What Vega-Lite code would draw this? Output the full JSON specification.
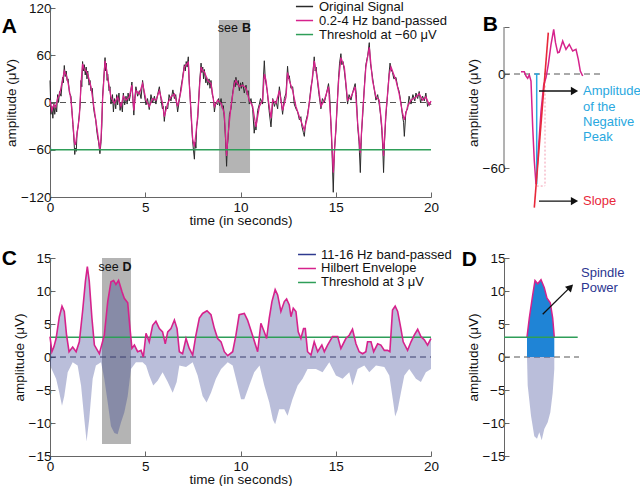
{
"$schema": "https://vega.github.io/schema/vega-lite/v6.json",
"padding": {"left": 1, "top": 0, "right": 0, "bottom": 0},
"background": "white",
"data": {"values": [{}]},
"config": {
  "view": {"stroke": null},
  "font": "Liberation Sans",
  "axis": {"grid": false, "domainColor": "#666", "tickColor": "#666", "labelColor": "#111", "titleColor": "#111", "labelFontSize": 13.5, "titleFontSize": 13.5, "titleFontWeight": "normal", "tickSize": -5, "labelPadding": 4, "titlePadding": 2, "labelFlush": false, "labelOverlap": false, "domainWidth": 1, "tickWidth": 1},
  "axisX": {"labelPadding": 8, "titlePadding": 0}
},
"datasets": {
  "bpA": [{"t":0,"v":3},{"t":0.1,"v":-10},{"t":0.2,"v":-3},{"t":0.3,"v":-6},{"t":0.4,"v":5},{"t":0.5,"v":10},{"t":0.66,"v":28},{"t":0.75,"v":40},{"t":0.85,"v":35},{"t":0.95,"v":25},{"t":1.1,"v":3},{"t":1.2,"v":-25},{"t":1.28,"v":-50},{"t":1.33,"v":-54},{"t":1.42,"v":-40},{"t":1.54,"v":-18},{"t":1.63,"v":24},{"t":1.71,"v":49},{"t":1.8,"v":42},{"t":1.9,"v":40},{"t":1.98,"v":36},{"t":2.15,"v":20},{"t":2.33,"v":-10},{"t":2.5,"v":-39},{"t":2.62,"v":-60},{"t":2.68,"v":-45},{"t":2.76,"v":3},{"t":2.89,"v":53},{"t":2.95,"v":45},{"t":3.03,"v":32},{"t":3.2,"v":7},{"t":3.38,"v":-1},{"t":3.55,"v":7},{"t":3.73,"v":-5},{"t":3.85,"v":8},{"t":3.99,"v":3},{"t":4.16,"v":7},{"t":4.3,"v":22},{"t":4.4,"v":-10},{"t":4.51,"v":15},{"t":4.69,"v":11},{"t":4.86,"v":24},{"t":5.04,"v":3},{"t":5.21,"v":-5},{"t":5.39,"v":5},{"t":5.56,"v":3},{"t":5.74,"v":15},{"t":5.9,"v":0},{"t":6.0,"v":-18},{"t":6.18,"v":-1},{"t":6.35,"v":7},{"t":6.53,"v":11},{"t":6.7,"v":-5},{"t":6.88,"v":15},{"t":7.05,"v":45},{"t":7.15,"v":48},{"t":7.26,"v":51},{"t":7.31,"v":24},{"t":7.4,"v":-10},{"t":7.49,"v":-47},{"t":7.58,"v":-56},{"t":7.66,"v":-40},{"t":7.75,"v":-18},{"t":7.85,"v":20},{"t":7.93,"v":45},{"t":8.02,"v":40},{"t":8.1,"v":39},{"t":8.28,"v":28},{"t":8.45,"v":24},{"t":8.63,"v":-5},{"t":8.8,"v":3},{"t":8.98,"v":-1},{"t":9.15,"v":-14},{"t":9.22,"v":-45},{"t":9.27,"v":-68},{"t":9.35,"v":-40},{"t":9.5,"v":-5},{"t":9.68,"v":24},{"t":9.76,"v":28},{"t":9.94,"v":20},{"t":10.11,"v":22},{"t":10.29,"v":18},{"t":10.46,"v":3},{"t":10.64,"v":-5},{"t":10.81,"v":-31},{"t":10.99,"v":-5},{"t":11.16,"v":3},{"t":11.25,"v":36},{"t":11.34,"v":28},{"t":11.45,"v":5},{"t":11.6,"v":-20},{"t":11.69,"v":3},{"t":11.86,"v":-1},{"t":12.04,"v":15},{"t":12.21,"v":-10},{"t":12.39,"v":7},{"t":12.47,"v":38},{"t":12.56,"v":28},{"t":12.74,"v":15},{"t":12.91,"v":-5},{"t":13.09,"v":-18},{"t":13.35,"v":-35},{"t":13.52,"v":-18},{"t":13.7,"v":16},{"t":13.87,"v":53},{"t":14.05,"v":28},{"t":14.22,"v":-5},{"t":14.4,"v":3},{"t":14.62,"v":20},{"t":14.75,"v":-26},{"t":14.87,"v":-89},{"t":15.01,"v":-31},{"t":15.15,"v":28},{"t":15.27,"v":57},{"t":15.45,"v":45},{"t":15.62,"v":3},{"t":15.8,"v":7},{"t":16.02,"v":20},{"t":16.15,"v":-26},{"t":16.29,"v":-64},{"t":16.41,"v":-14},{"t":16.58,"v":45},{"t":16.76,"v":70},{"t":16.93,"v":28},{"t":17.11,"v":7},{"t":17.28,"v":3},{"t":17.42,"v":-31},{"t":17.51,"v":-68},{"t":17.63,"v":-14},{"t":17.81,"v":36},{"t":17.9,"v":45},{"t":18.16,"v":28},{"t":18.33,"v":11},{"t":18.51,"v":-14},{"t":18.6,"v":-22},{"t":18.77,"v":-5},{"t":18.95,"v":3},{"t":19.21,"v":7},{"t":19.38,"v":11},{"t":19.56,"v":3},{"t":19.73,"v":7},{"t":19.91,"v":-3},{"t":20,"v":2}],
  "origA": [{"t":0,"v":28},{"t":0.05,"v":-15},{"t":0.1,"v":-5},{"t":0.15,"v":-20},{"t":0.2,"v":-2},{"t":0.25,"v":-15},{"t":0.3,"v":-3},{"t":0.35,"v":-12},{"t":0.4,"v":10},{"t":0.45,"v":0},{"t":0.5,"v":14},{"t":0.58,"v":8},{"t":0.66,"v":32},{"t":0.7,"v":25},{"t":0.75,"v":47},{"t":0.8,"v":33},{"t":0.85,"v":40},{"t":0.9,"v":28},{"t":0.95,"v":30},{"t":1.02,"v":12},{"t":1.1,"v":8},{"t":1.15,"v":-10},{"t":1.2,"v":-28},{"t":1.25,"v":-45},{"t":1.3,"v":-66},{"t":1.33,"v":-58},{"t":1.38,"v":-62},{"t":1.42,"v":-38},{"t":1.48,"v":-30},{"t":1.54,"v":-14},{"t":1.58,"v":-5},{"t":1.63,"v":28},{"t":1.67,"v":20},{"t":1.71,"v":52},{"t":1.75,"v":40},{"t":1.8,"v":48},{"t":1.85,"v":35},{"t":1.9,"v":45},{"t":1.94,"v":30},{"t":1.98,"v":40},{"t":2.05,"v":22},{"t":2.1,"v":28},{"t":2.15,"v":15},{"t":2.22,"v":18},{"t":2.28,"v":-5},{"t":2.33,"v":-14},{"t":2.4,"v":-22},{"t":2.45,"v":-35},{"t":2.5,"v":-44},{"t":2.55,"v":-50},{"t":2.62,"v":-65},{"t":2.65,"v":-58},{"t":2.68,"v":-50},{"t":2.72,"v":-30},{"t":2.76,"v":8},{"t":2.82,"v":30},{"t":2.89,"v":57},{"t":2.92,"v":40},{"t":2.95,"v":50},{"t":3.0,"v":28},{"t":3.03,"v":36},{"t":3.1,"v":15},{"t":3.15,"v":20},{"t":3.2,"v":-2},{"t":3.28,"v":10},{"t":3.33,"v":-12},{"t":3.38,"v":5},{"t":3.45,"v":-8},{"t":3.5,"v":10},{"t":3.55,"v":-3},{"t":3.62,"v":12},{"t":3.68,"v":-10},{"t":3.73,"v":0},{"t":3.8,"v":-12},{"t":3.85,"v":12},{"t":3.92,"v":-3},{"t":3.99,"v":8},{"t":4.05,"v":-2},{"t":4.1,"v":12},{"t":4.16,"v":2},{"t":4.22,"v":10},{"t":4.3,"v":26},{"t":4.35,"v":5},{"t":4.4,"v":-16},{"t":4.45,"v":5},{"t":4.51,"v":20},{"t":4.6,"v":8},{"t":4.69,"v":15},{"t":4.78,"v":5},{"t":4.86,"v":28},{"t":4.95,"v":10},{"t":5.04,"v":-3},{"t":5.12,"v":5},{"t":5.21,"v":-9},{"t":5.3,"v":10},{"t":5.39,"v":0},{"t":5.48,"v":8},{"t":5.56,"v":-2},{"t":5.65,"v":10},{"t":5.74,"v":20},{"t":5.82,"v":5},{"t":5.9,"v":-8},{"t":5.95,"v":-5},{"t":6.0,"v":-24},{"t":6.08,"v":-5},{"t":6.18,"v":-8},{"t":6.25,"v":10},{"t":6.35,"v":2},{"t":6.45,"v":16},{"t":6.53,"v":5},{"t":6.6,"v":10},{"t":6.7,"v":-12},{"t":6.8,"v":5},{"t":6.88,"v":20},{"t":6.95,"v":30},{"t":7.05,"v":48},{"t":7.1,"v":40},{"t":7.15,"v":52},{"t":7.2,"v":45},{"t":7.26,"v":58},{"t":7.3,"v":30},{"t":7.35,"v":10},{"t":7.4,"v":-15},{"t":7.45,"v":-35},{"t":7.49,"v":-50},{"t":7.53,"v":-60},{"t":7.58,"v":-72},{"t":7.62,"v":-50},{"t":7.66,"v":-58},{"t":7.7,"v":-30},{"t":7.75,"v":-22},{"t":7.8,"v":0},{"t":7.85,"v":25},{"t":7.9,"v":40},{"t":7.93,"v":50},{"t":7.97,"v":38},{"t":8.02,"v":45},{"t":8.06,"v":30},{"t":8.1,"v":42},{"t":8.18,"v":25},{"t":8.22,"v":32},{"t":8.28,"v":22},{"t":8.35,"v":30},{"t":8.4,"v":18},{"t":8.45,"v":28},{"t":8.52,"v":10},{"t":8.58,"v":5},{"t":8.63,"v":-12},{"t":8.7,"v":0},{"t":8.8,"v":-3},{"t":8.85,"v":5},{"t":8.9,"v":-4},{"t":8.98,"v":5},{"t":9.05,"v":-8},{"t":9.1,"v":-4},{"t":9.15,"v":-20},{"t":9.2,"v":-40},{"t":9.22,"v":-50},{"t":9.27,"v":-81},{"t":9.31,"v":-55},{"t":9.35,"v":-45},{"t":9.42,"v":-15},{"t":9.5,"v":-8},{"t":9.58,"v":10},{"t":9.68,"v":28},{"t":9.72,"v":20},{"t":9.76,"v":32},{"t":9.82,"v":22},{"t":9.88,"v":28},{"t":9.94,"v":15},{"t":10.0,"v":25},{"t":10.05,"v":18},{"t":10.11,"v":26},{"t":10.2,"v":12},{"t":10.29,"v":22},{"t":10.35,"v":10},{"t":10.4,"v":15},{"t":10.46,"v":-2},{"t":10.55,"v":5},{"t":10.64,"v":-9},{"t":10.72,"v":-39},{"t":10.78,"v":-25},{"t":10.81,"v":-35},{"t":10.9,"v":-10},{"t":10.99,"v":-2},{"t":11.05,"v":5},{"t":11.16,"v":-2},{"t":11.2,"v":30},{"t":11.25,"v":53},{"t":11.3,"v":30},{"t":11.4,"v":15},{"t":11.5,"v":-10},{"t":11.6,"v":-31},{"t":11.65,"v":-15},{"t":11.69,"v":5},{"t":11.78,"v":-5},{"t":11.86,"v":2},{"t":11.95,"v":-8},{"t":12.04,"v":20},{"t":12.12,"v":5},{"t":12.21,"v":-15},{"t":12.3,"v":5},{"t":12.39,"v":12},{"t":12.47,"v":46},{"t":12.52,"v":30},{"t":12.56,"v":34},{"t":12.65,"v":18},{"t":12.74,"v":20},{"t":12.82,"v":-2},{"t":12.91,"v":-8},{"t":13.0,"v":-12},{"t":13.09,"v":-22},{"t":13.17,"v":-18},{"t":13.22,"v":-30},{"t":13.3,"v":-38},{"t":13.35,"v":-43},{"t":13.42,"v":-25},{"t":13.52,"v":-15},{"t":13.6,"v":-2},{"t":13.7,"v":20},{"t":13.78,"v":30},{"t":13.87,"v":58},{"t":13.92,"v":40},{"t":13.97,"v":45},{"t":14.05,"v":25},{"t":14.12,"v":10},{"t":14.22,"v":-8},{"t":14.3,"v":5},{"t":14.4,"v":0},{"t":14.5,"v":10},{"t":14.62,"v":24},{"t":14.68,"v":10},{"t":14.75,"v":-30},{"t":14.8,"v":-60},{"t":14.87,"v":-114},{"t":14.93,"v":-60},{"t":15.01,"v":-35},{"t":15.08,"v":0},{"t":15.15,"v":32},{"t":15.2,"v":50},{"t":15.27,"v":62},{"t":15.32,"v":48},{"t":15.38,"v":52},{"t":15.45,"v":40},{"t":15.52,"v":25},{"t":15.62,"v":-2},{"t":15.7,"v":10},{"t":15.8,"v":3},{"t":15.9,"v":14},{"t":16.02,"v":24},{"t":16.08,"v":10},{"t":16.15,"v":-30},{"t":16.22,"v":-50},{"t":16.29,"v":-89},{"t":16.35,"v":-40},{"t":16.41,"v":-18},{"t":16.5,"v":20},{"t":16.58,"v":48},{"t":16.68,"v":60},{"t":16.76,"v":76},{"t":16.82,"v":50},{"t":16.93,"v":32},{"t":17.0,"v":20},{"t":17.11,"v":3},{"t":17.2,"v":10},{"t":17.28,"v":-2},{"t":17.35,"v":-15},{"t":17.42,"v":-36},{"t":17.47,"v":-60},{"t":17.51,"v":-89},{"t":17.56,"v":-50},{"t":17.63,"v":-18},{"t":17.72,"v":10},{"t":17.81,"v":40},{"t":17.85,"v":50},{"t":17.9,"v":42},{"t":17.98,"v":38},{"t":18.05,"v":30},{"t":18.16,"v":32},{"t":18.25,"v":20},{"t":18.33,"v":14},{"t":18.42,"v":0},{"t":18.51,"v":-18},{"t":18.56,"v":-25},{"t":18.6,"v":-43},{"t":18.68,"v":-12},{"t":18.77,"v":-8},{"t":18.85,"v":8},{"t":18.95,"v":-2},{"t":19.05,"v":10},{"t":19.15,"v":2},{"t":19.21,"v":12},{"t":19.3,"v":5},{"t":19.38,"v":14},{"t":19.45,"v":0},{"t":19.56,"v":8},{"t":19.65,"v":2},{"t":19.73,"v":12},{"t":19.82,"v":-5},{"t":19.91,"v":0},{"t":20,"v":-3}],
  "bsig": [{"u":17,"v":1.5},{"u":20.3,"v":1.5},{"u":22,"v":-1.3},{"u":23.7,"v":-2.8},{"u":25.3,"v":-0.6},{"u":27,"v":-4.5},{"u":28.7,"v":-34},{"u":30.3,"v":-55.5},{"u":32,"v":-70.4},{"u":34.3,"v":-49},{"u":37,"v":-24},{"u":39.7,"v":-7},{"u":42,"v":-2.3},{"u":44.3,"v":6},{"u":47,"v":18.7},{"u":49.7,"v":28.5},{"u":51.5,"v":20},{"u":53.7,"v":13.6},{"u":55.3,"v":14},{"u":58.7,"v":21},{"u":62,"v":15.7},{"u":65.3,"v":18.9},{"u":68.7,"v":14.7},{"u":72,"v":15.7},{"u":74.3,"v":9.4},{"u":76.3,"v":1.9},{"u":78.7,"v":-1.3}],
  "cup": [{"t":0,"v":3.1},{"t":0.1,"v":0.8},{"t":0.2,"v":1.5},{"t":0.32,"v":2.8},{"t":0.49,"v":6.1},{"t":0.63,"v":7.7},{"t":0.75,"v":6.9},{"t":0.87,"v":3.3},{"t":1.0,"v":0.8},{"t":1.19,"v":1.5},{"t":1.37,"v":0.8},{"t":1.54,"v":2.3},{"t":1.71,"v":6.9},{"t":1.86,"v":11.5},{"t":1.96,"v":13.7},{"t":2.06,"v":11.5},{"t":2.2,"v":5.9},{"t":2.33,"v":1.8},{"t":2.59,"v":0.5},{"t":2.85,"v":3.3},{"t":3.03,"v":8.4},{"t":3.2,"v":11.4},{"t":3.34,"v":11.6},{"t":3.46,"v":11.0},{"t":3.6,"v":11.6},{"t":3.78,"v":9.9},{"t":3.9,"v":8.9},{"t":4.08,"v":8.2},{"t":4.2,"v":4.3},{"t":4.3,"v":1.3},{"t":4.43,"v":1.8},{"t":4.6,"v":0.8},{"t":4.78,"v":1.0},{"t":4.9,"v":0},{"t":5.04,"v":3.6},{"t":5.21,"v":2.3},{"t":5.39,"v":4.8},{"t":5.56,"v":5.4},{"t":5.74,"v":4.3},{"t":5.91,"v":3.8},{"t":6.05,"v":2.0},{"t":6.18,"v":3.8},{"t":6.35,"v":4.3},{"t":6.53,"v":5.6},{"t":6.67,"v":4.3},{"t":6.79,"v":0.8},{"t":6.96,"v":0.5},{"t":7.14,"v":2.8},{"t":7.31,"v":1.3},{"t":7.49,"v":0.3},{"t":7.66,"v":3.3},{"t":7.84,"v":5.9},{"t":8.01,"v":6.6},{"t":8.24,"v":7.0},{"t":8.45,"v":6.4},{"t":8.63,"v":4.3},{"t":8.8,"v":2.8},{"t":8.98,"v":2.3},{"t":9.15,"v":0.8},{"t":9.33,"v":0.2},{"t":9.59,"v":0.8},{"t":9.76,"v":3.3},{"t":9.93,"v":6.4},{"t":10.2,"v":6.6},{"t":10.37,"v":5.6},{"t":10.63,"v":3.3},{"t":10.9,"v":0.8},{"t":11.07,"v":5.1},{"t":11.25,"v":3.8},{"t":11.37,"v":2.8},{"t":11.51,"v":5.9},{"t":11.65,"v":8.4},{"t":11.82,"v":10.2},{"t":11.95,"v":9.4},{"t":12.12,"v":6.9},{"t":12.3,"v":8.4},{"t":12.42,"v":8.8},{"t":12.56,"v":7.9},{"t":12.65,"v":6.1},{"t":12.77,"v":7.4},{"t":12.91,"v":6.9},{"t":13.03,"v":3.8},{"t":13.17,"v":2.8},{"t":13.31,"v":4.3},{"t":13.4,"v":4.3},{"t":13.52,"v":0.8},{"t":13.7,"v":0.3},{"t":13.87,"v":2.3},{"t":14.05,"v":0.8},{"t":14.27,"v":1.8},{"t":14.4,"v":0.8},{"t":14.57,"v":1.8},{"t":14.83,"v":3.1},{"t":15.1,"v":3.1},{"t":15.27,"v":1.3},{"t":15.53,"v":2.8},{"t":15.71,"v":3.3},{"t":15.88,"v":4.2},{"t":16.06,"v":2.0},{"t":16.23,"v":0.8},{"t":16.41,"v":0.5},{"t":16.58,"v":0.8},{"t":16.67,"v":2.3},{"t":16.85,"v":2.3},{"t":16.99,"v":0.8},{"t":17.2,"v":2.0},{"t":17.37,"v":1.8},{"t":17.55,"v":1.0},{"t":17.72,"v":1.0},{"t":17.84,"v":0.8},{"t":17.98,"v":7.1},{"t":18.12,"v":7.7},{"t":18.25,"v":6.9},{"t":18.42,"v":4.3},{"t":18.54,"v":2.3},{"t":18.77,"v":1.0},{"t":18.95,"v":2.3},{"t":19.12,"v":3.3},{"t":19.3,"v":4.2},{"t":19.47,"v":3.1},{"t":19.65,"v":2.6},{"t":19.82,"v":1.8},{"t":19.96,"v":2.6},{"t":20,"v":2.8}],
  "clow": [{"t":0,"v":-1.3},{"t":0.32,"v":-3.3},{"t":0.49,"v":-5.4},{"t":0.63,"v":-7.4},{"t":0.75,"v":-5.9},{"t":0.93,"v":-2.3},{"t":1.19,"v":-0.8},{"t":1.45,"v":-1.3},{"t":1.63,"v":-4.3},{"t":1.8,"v":-9.4},{"t":1.92,"v":-12.8},{"t":2.06,"v":-9.4},{"t":2.24,"v":-3.3},{"t":2.41,"v":-1.3},{"t":2.68,"v":-0.8},{"t":2.85,"v":-3.3},{"t":3.03,"v":-6.9},{"t":3.2,"v":-10.5},{"t":3.38,"v":-11.5},{"t":3.55,"v":-11.7},{"t":3.73,"v":-9.9},{"t":3.9,"v":-8.4},{"t":4.08,"v":-5.9},{"t":4.25,"v":-1.8},{"t":4.51,"v":-0.8},{"t":4.86,"v":-0.8},{"t":5.04,"v":-1.3},{"t":5.21,"v":-2.8},{"t":5.42,"v":-4.3},{"t":5.65,"v":-3.6},{"t":5.91,"v":-2.3},{"t":6.18,"v":-3.8},{"t":6.44,"v":-5.4},{"t":6.65,"v":-3.8},{"t":6.79,"v":-1.3},{"t":7.14,"v":-1.5},{"t":7.49,"v":-0.8},{"t":7.75,"v":-2.8},{"t":8.01,"v":-5.9},{"t":8.22,"v":-6.9},{"t":8.45,"v":-5.4},{"t":8.71,"v":-3.3},{"t":8.98,"v":-1.8},{"t":9.33,"v":-0.8},{"t":9.59,"v":-1.3},{"t":9.85,"v":-4.3},{"t":10.03,"v":-6.4},{"t":10.2,"v":-6.4},{"t":10.46,"v":-4.3},{"t":10.72,"v":-2.3},{"t":11.0,"v":-1.3},{"t":11.25,"v":-4.3},{"t":11.51,"v":-6.9},{"t":11.7,"v":-9.5},{"t":11.82,"v":-10.2},{"t":12.03,"v":-7.9},{"t":12.3,"v":-7.9},{"t":12.47,"v":-8.9},{"t":12.73,"v":-6.4},{"t":13.0,"v":-4.3},{"t":13.26,"v":-3.3},{"t":13.52,"v":-1.8},{"t":13.96,"v":-1.8},{"t":14.31,"v":-2.3},{"t":14.66,"v":-0.8},{"t":15.01,"v":-2.8},{"t":15.36,"v":-3.3},{"t":15.71,"v":-2.3},{"t":15.88,"v":-4.3},{"t":16.15,"v":-1.8},{"t":16.5,"v":-1.3},{"t":16.76,"v":-2.3},{"t":17.11,"v":-1.3},{"t":17.55,"v":-1.5},{"t":17.81,"v":-2.8},{"t":18.02,"v":-6.9},{"t":18.12,"v":-9.0},{"t":18.25,"v":-8.0},{"t":18.42,"v":-5.4},{"t":18.6,"v":-2.8},{"t":18.86,"v":-1.8},{"t":19.21,"v":-3.3},{"t":19.47,"v":-3.8},{"t":19.73,"v":-2.3},{"t":20,"v":-1.8}],
  "dup": [{"u":23,"v":3.0},{"u":25.3,"v":5.9},{"u":28.7,"v":9.4},{"u":31,"v":11.6},{"u":33.7,"v":11.1},{"u":37,"v":11.7},{"u":40.3,"v":10.5},{"u":43,"v":8.9},{"u":46.3,"v":8.2},{"u":48.7,"v":5.9},{"u":50.3,"v":3.0}],
  "dlow": [{"u":23,"v":0},{"u":23.7,"v":-4.3},{"u":27,"v":-8.9},{"u":30.3,"v":-12},{"u":33,"v":-12.4},{"u":35.3,"v":-11.4},{"u":37.7,"v":-12.6},{"u":40.3,"v":-10.9},{"u":43.7,"v":-9.9},{"u":46.3,"v":-8.4},{"u":48.7,"v":-5.4},{"u":50.3,"v":-1.8},{"u":50.3,"v":0}]
},
"columns": 2,
"spacing": {"row": 61, "column": 73},
"bounds": "flush",
"concat": [
  {"width": 381, "height": 189, "layer": [
    {"mark": {"type": "rect", "color": "#b4b4b4"}, "encoding": {
      "x": {"datum": 8.87, "type": "quantitative", "scale": {"domain": [0, 20], "nice": false, "zero": false}, "axis": {"values": [0, 5, 10, 15, 20], "tickCount": 20, "title": "time (in seconds)"}},
      "x2": {"datum": 10.5},
      "y": {"datum": -89.5, "type": "quantitative", "scale": {"domain": [-120, 120], "nice": false, "zero": false}, "axis": {"values": [-120, -60, 0, 60, 120], "tickCount": 20, "title": "amplitude (μV)"}},
      "y2": {"datum": 104.8}}},
    {"mark": {"type": "rule", "color": "#555", "strokeDash": [6, 4]}, "encoding": {"x": {"datum": 0}, "x2": {"datum": 20}, "y": {"datum": 0}}},
    {"data": {"name": "origA"}, "mark": {"type": "line", "color": "#2a2a2a", "strokeWidth": 1}, "encoding": {"x": {"field": "t", "type": "quantitative"}, "y": {"field": "v", "type": "quantitative"}}},
    {"data": {"name": "bpA"}, "mark": {"type": "line", "color": "#d6228c", "strokeWidth": 1.3}, "encoding": {"x": {"field": "t", "type": "quantitative"}, "y": {"field": "v", "type": "quantitative"}}},
    {"mark": {"type": "rule", "color": "#2e9e58", "strokeWidth": 1.5}, "encoding": {"x": {"datum": 0}, "x2": {"datum": 20}, "y": {"datum": -60}}},
    {"mark": {"type": "text", "text": "see", "fontSize": 12.5, "align": "right", "color": "#111"}, "encoding": {"x": {"datum": 9.87}, "y": {"datum": 94.2}}},
    {"mark": {"type": "text", "text": "B", "fontSize": 12.5, "fontWeight": "bold", "align": "left", "color": "#111"}, "encoding": {"x": {"datum": 10.08}, "y": {"datum": 94.2}}},
    {"mark": {"type": "rule", "color": "#2a2a2a", "strokeWidth": 1.5}, "encoding": {"x": {"datum": 12.91}, "x2": {"datum": 13.81}, "y": {"datum": 121.9}}},
    {"mark": {"type": "rule", "color": "#d6228c", "strokeWidth": 1.5}, "encoding": {"x": {"datum": 12.91}, "x2": {"datum": 13.81}, "y": {"datum": 104.1}}},
    {"mark": {"type": "rule", "color": "#2e9e58", "strokeWidth": 1.5}, "encoding": {"x": {"datum": 12.91}, "x2": {"datum": 13.81}, "y": {"datum": 86.3}}},
    {"mark": {"type": "text", "text": "Original Signal", "fontSize": 13, "align": "left", "color": "#111"}, "encoding": {"x": {"datum": 14.12}, "y": {"datum": 121.9}}},
    {"mark": {"type": "text", "text": "0.2-4 Hz band-passed", "fontSize": 13, "align": "left", "color": "#111"}, "encoding": {"x": {"datum": 14.12}, "y": {"datum": 104.1}}},
    {"mark": {"type": "text", "text": "Threshold at −60 μV", "fontSize": 13, "align": "left", "color": "#111"}, "encoding": {"x": {"datum": 14.12}, "y": {"datum": 86.3}}},
    {"mark": {"type": "text", "text": "A", "fontSize": 21, "fontWeight": "bold", "color": "#000"}, "encoding": {"x": {"datum": -2.14}, "y": {"datum": 96}}}
  ]},
  {"width": 100, "height": 189, "layer": [
    {"mark": {"type": "rule", "color": "#666"}, "encoding": {
      "x": {"datum": 0, "type": "quantitative", "scale": {"domain": [0, 100], "nice": false, "zero": false}, "axis": null},
      "y": {"datum": -60, "type": "quantitative", "scale": {"domain": [-78.5, 42.13], "nice": false, "zero": false}, "axis": {"values": [30, 0, -60], "tickCount": 20, "labelExpr": "datum.value == 30 ? '' : datum.label", "domain": false, "title": "amplitude (μV)"}},
      "y2": {"datum": 30}}},
    {"mark": {"type": "rule", "color": "#555", "strokeDash": [6, 4]}, "encoding": {"x": {"datum": 0}, "x2": {"datum": 99}, "y": {"datum": 0}}},
    {"mark": {"type": "rule", "color": "#f29bb0", "strokeDash": [2, 2]}, "encoding": {"x": {"datum": 41}, "y": {"datum": -2.3}, "y2": {"datum": -71.5}}},
    {"mark": {"type": "rule", "color": "#f29bb0", "strokeDash": [2, 2]}, "encoding": {"x": {"datum": 32.7}, "x2": {"datum": 41}, "y": {"datum": -71.5}}},
    {"data": {"name": "bsig"}, "mark": {"type": "line", "color": "#d6228c", "strokeWidth": 1.5}, "encoding": {"x": {"field": "u", "type": "quantitative"}, "y": {"field": "v", "type": "quantitative"}}},
    {"mark": {"type": "rule", "color": "#2aa8e0", "strokeWidth": 1.5}, "encoding": {"x": {"datum": 32.7}, "y": {"datum": 0}, "y2": {"datum": -70.4}}},
    {"mark": {"type": "rule", "color": "#2aa8e0", "strokeWidth": 1.5}, "encoding": {"x": {"datum": 30.5}, "x2": {"datum": 35}, "y": {"datum": 0}}},
    {"mark": {"type": "rule", "color": "#e8283a", "strokeWidth": 1.6}, "encoding": {"x": {"datum": 30.3}, "y": {"datum": -85.3}, "x2": {"datum": 44.3}, "y2": {"datum": 26.4}}},
    {"mark": {"type": "rule", "color": "#111", "strokeWidth": 1.3}, "encoding": {"x": {"datum": 35}, "x2": {"datum": 68}, "y": {"datum": -10.85}}},
    {"mark": {"type": "point", "shape": "triangle-right", "filled": true, "color": "#111", "size": 70, "opacity": 1}, "encoding": {"x": {"datum": 70.5}, "y": {"datum": -10.85}}},
    {"mark": {"type": "rule", "color": "#111", "strokeWidth": 1.3}, "encoding": {"x": {"datum": 35}, "x2": {"datum": 68}, "y": {"datum": -81.1}}},
    {"mark": {"type": "point", "shape": "triangle-right", "filled": true, "color": "#111", "size": 70, "opacity": 1}, "encoding": {"x": {"datum": 70.5}, "y": {"datum": -81.1}}},
    {"mark": {"type": "text", "text": ["Amplitude", "of the", "Negative", "Peak"], "fontSize": 13, "lineHeight": 15.3, "align": "left", "baseline": "top", "color": "#2aa8e0"}, "encoding": {"x": {"datum": 79}, "y": {"datum": -7.3}}},
    {"mark": {"type": "text", "text": "Slope", "fontSize": 13, "align": "left", "color": "#e8283a"}, "encoding": {"x": {"datum": 79}, "y": {"datum": -81.1}}},
    {"mark": {"type": "text", "text": "B", "fontSize": 21, "fontWeight": "bold", "color": "#000"}, "encoding": {"x": {"datum": -13.7}, "y": {"datum": 31.1}}}
  ]},
  {"width": 381, "height": 198, "layer": [
    {"mark": {"type": "rect", "color": "#b4b4b4"}, "encoding": {
      "x": {"datum": 2.73, "type": "quantitative", "scale": {"domain": [0, 20], "nice": false, "zero": false}, "axis": {"values": [0, 5, 10, 15, 20], "tickCount": 20, "title": "time (in seconds)"}},
      "x2": {"datum": 4.25},
      "y": {"datum": -13.2, "type": "quantitative", "scale": {"domain": [-15, 15], "nice": false, "zero": false}, "axis": {"values": [-15, -10, -5, 0, 5, 10, 15], "tickCount": 20, "title": "amplitude (μV)"}},
      "y2": {"datum": 15}}},
    {"data": {"name": "cup"}, "mark": {"type": "area", "color": "#2e3a8f", "fillOpacity": 0.33}, "encoding": {"x": {"field": "t", "type": "quantitative"}, "y": {"field": "v", "type": "quantitative"}, "y2": {"datum": 0}}},
    {"data": {"name": "clow"}, "mark": {"type": "area", "color": "#2e3a8f", "fillOpacity": 0.33}, "encoding": {"x": {"field": "t", "type": "quantitative"}, "y": {"field": "v", "type": "quantitative"}, "y2": {"datum": 0}}},
    {"mark": {"type": "rule", "color": "#3a3f6e", "strokeDash": [6, 4]}, "encoding": {"x": {"datum": 0}, "x2": {"datum": 20}, "y": {"datum": 0}}},
    {"mark": {"type": "rule", "color": "#2e9e58", "strokeWidth": 1.5}, "encoding": {"x": {"datum": 0}, "x2": {"datum": 20}, "y": {"datum": 3}}},
    {"data": {"name": "cup"}, "mark": {"type": "line", "color": "#d6228c", "strokeWidth": 1.6}, "encoding": {"x": {"field": "t", "type": "quantitative"}, "y": {"field": "v", "type": "quantitative"}}},
    {"mark": {"type": "text", "text": "see", "fontSize": 12.5, "align": "right", "color": "#111"}, "encoding": {"x": {"datum": 3.61}, "y": {"datum": 13.6}}},
    {"mark": {"type": "text", "text": "D", "fontSize": 12.5, "fontWeight": "bold", "align": "left", "color": "#111"}, "encoding": {"x": {"datum": 3.8}, "y": {"datum": 13.6}}},
    {"mark": {"type": "rule", "color": "#2e3a8f", "strokeWidth": 1.5}, "encoding": {"x": {"datum": 13.02}, "x2": {"datum": 13.96}, "y": {"datum": 15.53}}},
    {"mark": {"type": "rule", "color": "#d6228c", "strokeWidth": 1.5}, "encoding": {"x": {"datum": 13.02}, "x2": {"datum": 13.96}, "y": {"datum": 13.41}}},
    {"mark": {"type": "rule", "color": "#2e9e58", "strokeWidth": 1.5}, "encoding": {"x": {"datum": 13.02}, "x2": {"datum": 13.96}, "y": {"datum": 11.29}}},
    {"mark": {"type": "text", "text": "11-16 Hz band-passed", "fontSize": 13, "align": "left", "color": "#111"}, "encoding": {"x": {"datum": 14.23}, "y": {"datum": 15.53}}},
    {"mark": {"type": "text", "text": "Hilbert Envelope", "fontSize": 13, "align": "left", "color": "#111"}, "encoding": {"x": {"datum": 14.23}, "y": {"datum": 13.41}}},
    {"mark": {"type": "text", "text": "Threshold at 3 μV", "fontSize": 13, "align": "left", "color": "#111"}, "encoding": {"x": {"datum": 14.23}, "y": {"datum": 11.29}}},
    {"mark": {"type": "text", "text": "C", "fontSize": 21, "fontWeight": "bold", "color": "#000"}, "encoding": {"x": {"datum": -2.14}, "y": {"datum": 14.8}}}
  ]},
  {"width": 100, "height": 198, "layer": [
    {"mark": {"type": "rule", "color": "#555", "strokeDash": [6, 4]}, "encoding": {
      "x": {"datum": 0, "type": "quantitative", "scale": {"domain": [0, 100], "nice": false, "zero": false}, "axis": null},
      "x2": {"datum": 75},
      "y": {"datum": 0, "type": "quantitative", "scale": {"domain": [-15, 15], "nice": false, "zero": false}, "axis": {"values": [-15, -10, -5, 0, 5, 10, 15], "tickCount": 20, "title": "amplitude (μV)"}}}},
    {"data": {"name": "dlow"}, "mark": {"type": "area", "color": "#2e3a8f", "fillOpacity": 0.33}, "encoding": {"x": {"field": "u", "type": "quantitative"}, "y": {"field": "v", "type": "quantitative"}, "y2": {"datum": 0}}},
    {"data": {"name": "dup"}, "mark": {"type": "area", "color": "#1f84d6", "fillOpacity": 1}, "encoding": {"x": {"field": "u", "type": "quantitative"}, "y": {"field": "v", "type": "quantitative"}, "y2": {"datum": 0}}},
    {"data": {"name": "dup"}, "mark": {"type": "line", "color": "#d6228c", "strokeWidth": 1.5}, "encoding": {"x": {"field": "u", "type": "quantitative"}, "y": {"field": "v", "type": "quantitative"}}},
    {"mark": {"type": "rule", "color": "#2e9e58", "strokeWidth": 1.5}, "encoding": {"x": {"datum": 0}, "x2": {"datum": 73.7}, "y": {"datum": 3}}},
    {"mark": {"type": "rule", "color": "#111", "strokeWidth": 1.3}, "encoding": {"x": {"datum": 38.7}, "y": {"datum": 6.47}, "x2": {"datum": 65}, "y2": {"datum": 10.4}}},
    {"mark": {"type": "point", "shape": "triangle-up", "angle": 45, "filled": true, "color": "#111", "size": 70, "opacity": 1}, "encoding": {"x": {"datum": 66.5}, "y": {"datum": 10.6}}},
    {"mark": {"type": "text", "text": ["Spindle", "Power"], "fontSize": 13, "lineHeight": 15, "align": "left", "baseline": "top", "color": "#2b3590"}, "encoding": {"x": {"datum": 77}, "y": {"datum": 13.6}}},
    {"mark": {"type": "text", "text": "D", "fontSize": 21, "fontWeight": "bold", "color": "#000"}, "encoding": {"x": {"datum": -34.7}, "y": {"datum": 14.7}}}
  ]}
]
}
